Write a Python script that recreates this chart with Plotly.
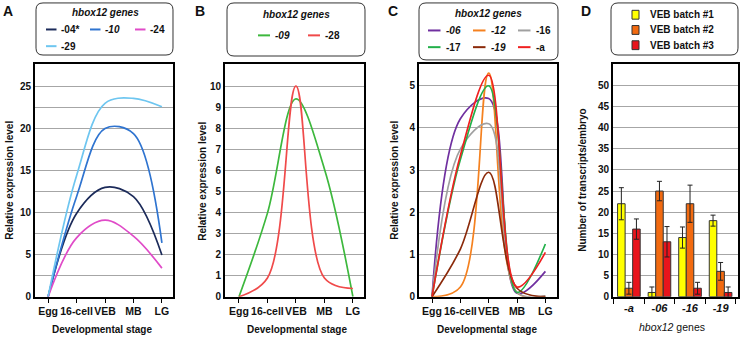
import plotly.graph_objects as go

W, H = 740, 342
FONT = "Arial, Liberation Sans, sans-serif"

# ---------------- data ----------------
stages = ["Egg", "16-cell", "VEB", "MB", "LG"]

# Panel A
a_labels = ["-04*", "-10", "-24", "-29"]
a_italic = [False, True, False, False]
a_colors = ["#1C2B5A", "#2F74D0", "#E04BC8", "#6EC6F0"]
a_04 = [0, 9.9, 13.0, 11.9, 4.95]
a_10 = [0, 11.9, 20.0, 19.4, 6.4]
a_24 = [0, 7.0, 9.1, 7.2, 3.4]
a_29 = [0, 14.4, 23.0, 23.6, 22.6]

# Panel B
b_labels = ["-09", "-28"]
b_italic = [True, False]
b_colors = ["#3DB83D", "#F04A4A"]
b_09 = [0, 3.97, 9.4, 6.07, 0]
b_28 = [0, 0.89, 10.0, 0.89, 0.39]

# Panel C
c_labels = ["-06", "-12", "-16", "-17", "-19", "-a"]
c_italic = [True, True, False, False, True, False]
c_colors = ["#7030A0", "#F5811F", "#A0A0A0", "#22B04A", "#8B2A0A", "#F02020"]
c_06 = [0, 4.22, 4.7, 0.08, 0.6]
c_12 = [0, 0.23, 5.3, 0.1, 0.0]
c_16 = [0, 3.5, 4.1, 0.1, 0.02]
c_17 = [0, 3.25, 5.0, 0.1, 1.25]
c_19 = [0, 1.13, 2.95, 0.2, 0.0]
c_a = [0, 3.35, 5.25, 0.23, 1.05]

# Panel D
d_genes = ["-a", "-06", "-16", "-19"]
d_batches = ["VEB batch #1", "VEB batch #2", "VEB batch #3"]
d_colors = ["#FFFF00", "#F26A10", "#E8141C"]
batch1 = [22, 1, 14, 18]
batch2 = [2, 25, 22, 6]
batch3 = [16, 13, 2, 1]
err1 = [3.8, 1.3, 2.5, 1.3]
err2 = [1.4, 2.3, 4.4, 2.1]
err3 = [2.4, 3.6, 1.4, 1.3]

# ---------------- helpers ----------------
def px(x):
    return x / W

def py(y):
    return 1 - y / H

fig = go.Figure()

panels = [
    ("x", "y", [a_04, a_10, a_24, a_29], a_colors),
    ("x2", "y2", [b_09, b_28], b_colors),
    ("x3", "y3", [c_06, c_12, c_16, c_17, c_19, c_a], c_colors),
]
for xa, ya, series, cols in panels:
    for vals, col in zip(series, cols):
        fig.add_trace(go.Scatter(
            x=stages, y=vals, mode="lines", xaxis=xa, yaxis=ya,
            line=dict(color=col, width=1.7, shape="spline", smoothing=1.0),
            showlegend=False, hoverinfo="skip"))

for vals, errs, col, name in zip([batch1, batch2, batch3], [err1, err2, err3], d_colors, d_batches):
    fig.add_trace(go.Bar(
        x=d_genes, y=vals, name=name, xaxis="x4", yaxis="y4",
        marker=dict(color=col, line=dict(color="#333333", width=1)),
        error_y=dict(type="data", array=errs, color="#222222", thickness=1, width=2.5),
        showlegend=False, hoverinfo="skip"))

# plot boxes (pixel)
boxes = {
    "A": (35, 65, 173, 302),
    "B": (225, 65, 364, 302),
    "C": (419, 65, 557, 302),
    "D": (613, 65, 738, 302),
}

def xax(box, rng, **kw):
    d = dict(domain=[px(box[0]), px(box[2])], range=rng, type="category",
             showline=True, mirror=True, linecolor="black", linewidth=2,
             showgrid=False, zeroline=False, tickangle=0,
             tickfont=dict(family=FONT, size=10.5, color="#111111", weight="bold"))
    d.update(kw)
    return d

def yax(box, rng, grid_vals, lab_vals, anchor):
    ticktext = [(f"{v:g}" if v in lab_vals else "") for v in grid_vals]
    return dict(domain=[py(box[3]), py(box[1])], range=rng, anchor=anchor,
                showline=True, mirror=True, linecolor="black", linewidth=2,
                showgrid=True, gridcolor="#A6A6A6", gridwidth=1, zeroline=False,
                tickmode="array", tickvals=grid_vals, ticktext=ticktext, ticks="",
                tickfont=dict(family=FONT, size=10, color="#111111", weight="bold"))

fig.update_layout(
    width=W, height=H, margin=dict(l=0, r=0, t=0, b=0),
    paper_bgcolor="white", plot_bgcolor="white",
    barmode="group", bargap=0.26, bargroupgap=0, hovermode=False,
    xaxis=xax(boxes["A"], [-0.46, 4.39], anchor="y", ticks="outside", ticklen=4, tickcolor="black"),
    xaxis2=xax(boxes["B"], [-0.49, 4.39], anchor="y2", ticks="outside", ticklen=4, tickcolor="black"),
    xaxis3=xax(boxes["C"], [-0.46, 4.41], anchor="y3", ticks="outside", ticklen=4, tickcolor="black"),
    xaxis4=xax(boxes["D"], [-0.52, 3.57], anchor="y4", ticks="outside", ticklen=5, tickcolor="black",
               tickson="boundaries",
               tickfont=dict(family=FONT, size=11, color="#111111", weight="bold", style="italic")),
    yaxis=yax(boxes["A"], [0, 27.7], [i * 2.5 for i in range(11)], [0, 5, 10, 15, 20, 25], "x"),
    yaxis2=yax(boxes["B"], [0, 11.06], list(range(11)), list(range(11)), "x2"),
    yaxis3=yax(boxes["C"], [0, 5.52], [i * 0.5 for i in range(11)], [0, 1, 2, 3, 4, 5], "x3"),
    yaxis4=yax(boxes["D"], [0, 55.1], [i * 5 for i in range(11)], [i * 5 for i in range(11)], "x4"),
)

annotations = []
shapes = []

def text(x, y, s, size=10, bold=True, italic=False, xanchor="center", angle=0, color="#111111"):
    if italic:
        s = f"<i>{s}</i>"
    annotations.append(dict(
        x=px(x), y=py(y), xref="paper", yref="paper", text=s, showarrow=False,
        xanchor=xanchor, yanchor="middle", textangle=angle,
        font=dict(family=FONT, size=size, color=color, weight="bold" if bold else "normal")))

# panel letters
for letter, (x, y) in zip("ABCD", [(8, 11), (200, 11), (393, 11), (586, 11)]):
    text(x, y, letter, size=14)

# axis titles
for x, y in [(102, 335), (297, 335), (487, 335)]:
    text(x, y, "Developmental stage", size=10)
for x in [10, 203, 395]:
    text(x, 184, "Relative expression level", size=10, angle=-90)
text(583, 184, "Number of transcripts/embryo", size=10, angle=-90)
text(672, 333, "<i>hbox12</i> genes", size=10.5, bold=False)

def rrect(x0, y0, x1, y1, r=7):
    P = lambda x, y: f"{px(x):.5f},{py(y):.5f}"
    path = (f"M {P(x0 + r, y0)} L {P(x1 - r, y0)} Q {P(x1, y0)} {P(x1, y0 + r)} "
            f"L {P(x1, y1 - r)} Q {P(x1, y1)} {P(x1 - r, y1)} "
            f"L {P(x0 + r, y1)} Q {P(x0, y1)} {P(x0, y1 - r)} "
            f"L {P(x0, y0 + r)} Q {P(x0, y0)} {P(x0 + r, y0)} Z")
    shapes.append(dict(type="path", xref="paper", yref="paper", path=path,
                       line=dict(color="#333333", width=1), fillcolor="white", layer="above"))

def swatch_line(x0, x1, y, col):
    shapes.append(dict(type="line", xref="paper", yref="paper",
                       x0=px(x0), x1=px(x1), y0=py(y), y1=py(y),
                       line=dict(color=col, width=2), layer="above"))

# legend boxes
rrect(36, 3, 173, 56)
rrect(227, 3, 365, 57)
rrect(419, 3, 558, 61)
rrect(611, 3, 738, 56)

text(105, 13, "hbox12 genes", italic=True)
text(296, 15, "hbox12 genes", italic=True)
text(488, 14, "hbox12 genes", italic=True)

a_pos = [(46, 30), (90, 30), (135, 30), (46, 47)]
for (x, y), lab, it, col in zip(a_pos, a_labels, a_italic, a_colors):
    swatch_line(x, x + 10.5, y, col)
    text(x + 13, y, lab, italic=it, xanchor="left")

b_pos = [(258, 36), (308, 36)]
for (x, y), lab, it, col in zip(b_pos, b_labels, b_italic, b_colors):
    swatch_line(x, x + 12, y, col)
    text(x + 15, y, lab, italic=it, xanchor="left")

c_pos = [(428, 31), (473, 31), (518, 31), (428, 48), (473, 48), (518, 48)]
for (x, y), lab, it, col in zip(c_pos, c_labels, c_italic, c_colors):
    swatch_line(x, x + 12.5, y, col)
    text(x + 16, y, lab, italic=it, xanchor="left")

d_pos = [15, 30.5, 46]
for y, lab, col in zip(d_pos, d_batches, d_colors):
    shapes.append(dict(type="rect", xref="paper", yref="paper",
                       x0=px(632), x1=px(639), y0=py(y - 4.5), y1=py(y + 4.5),
                       line=dict(color="#333333", width=1), fillcolor=col, layer="above"))
    text(648, y, lab, xanchor="left")

fig.update_layout(annotations=annotations, shapes=shapes)
fig.write_html("out.html", config={"displayModeBar": False, "staticPlot": True},
               post_script="document.body.style.margin='0';document.body.style.padding='0';document.body.style.overflow='hidden';")
